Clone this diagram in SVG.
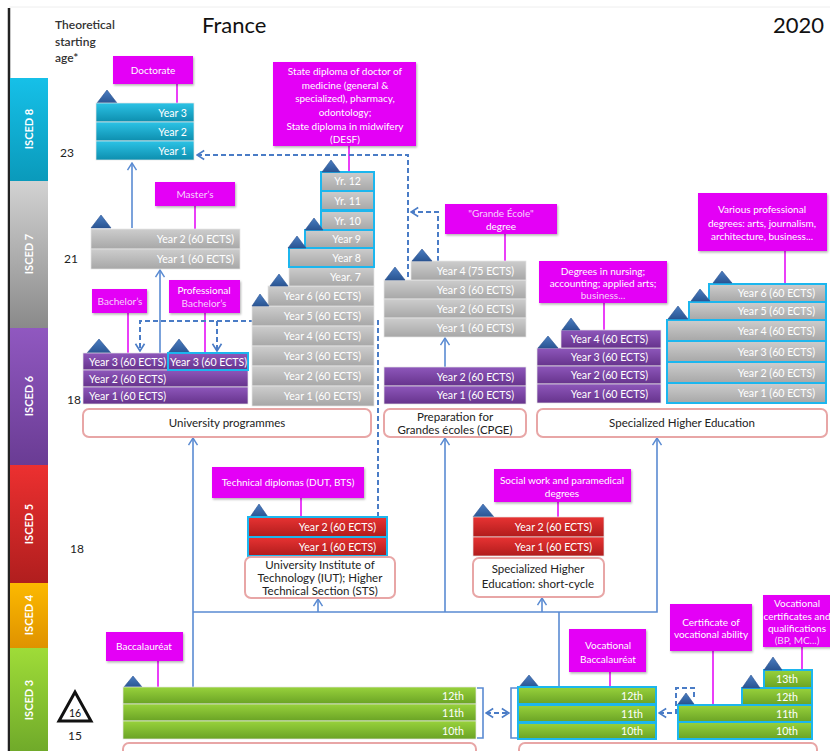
<svg xmlns="http://www.w3.org/2000/svg" width="830" height="751" viewBox="0 0 830 751">
<style>
text{font-family:"Lato","Liberation Sans",sans-serif;}
.rw{stroke:#e6e6e6;stroke-width:.7}
.cy{stroke:#1cb6ee;stroke-width:2}
.rt{fill:#fff;font-size:10.6px;text-anchor:end}
.rs{fill:#fff;font-size:10.6px;text-anchor:start}
.lab{fill:#e400f6;filter:url(#sh)}
.lt{fill:#fff;font-size:10px;text-anchor:middle}
.lp{fill:#f7d2fb;font-size:10px;text-anchor:middle}
.lk{stroke:#e400f6;stroke-width:1.5;fill:none}
.box{fill:#fff;stroke:#e8a6a6;stroke-width:2}
.bt{fill:#222;font-size:11.5px;text-anchor:middle}
.sol{stroke:#5a8bd2;stroke-width:1.6;fill:none}
.dash{stroke:#4a7cc6;stroke-width:2;fill:none;stroke-dasharray:5 3}
.isc{fill:#fff;font-size:11px;font-weight:bold;text-anchor:middle}
.age{fill:#222;font-size:12px}
.tri{fill:url(#gTri);stroke:#2b5390;stroke-width:.6}
</style>
<defs>
<linearGradient id="gCyan" x1="0" y1="0" x2="0" y2="1"><stop offset="0" stop-color="#2cc3e6"/><stop offset="1" stop-color="#0d8eae"/></linearGradient>
<linearGradient id="gGray" x1="0" y1="0" x2="0" y2="1"><stop offset="0" stop-color="#cdcdcd"/><stop offset="1" stop-color="#a7a7a7"/></linearGradient>
<linearGradient id="gPur" x1="0" y1="0" x2="0" y2="1"><stop offset="0" stop-color="#8e57bb"/><stop offset="1" stop-color="#66338c"/></linearGradient>
<linearGradient id="gRed" x1="0" y1="0" x2="0" y2="1"><stop offset="0" stop-color="#e83333"/><stop offset="1" stop-color="#b01c1c"/></linearGradient>
<linearGradient id="gGrn" x1="0" y1="0" x2="0" y2="1"><stop offset="0" stop-color="#98d23c"/><stop offset="1" stop-color="#6aa325"/></linearGradient>
<linearGradient id="gTri" x1="0" y1="0" x2="0" y2="1"><stop offset="0" stop-color="#4a7dc2"/><stop offset="1" stop-color="#2a5592"/></linearGradient>
<linearGradient id="i8" x1="0" y1="0" x2="0" y2="1"><stop offset="0" stop-color="#16c0e8"/><stop offset="1" stop-color="#0a9abb"/></linearGradient>
<linearGradient id="i7" x1="0" y1="0" x2="0" y2="1"><stop offset="0" stop-color="#d2d2d2"/><stop offset="1" stop-color="#8a8a8a"/></linearGradient>
<linearGradient id="i6" x1="0" y1="0" x2="0" y2="1"><stop offset="0" stop-color="#9058c0"/><stop offset="1" stop-color="#6a3c94"/></linearGradient>
<linearGradient id="i5" x1="0" y1="0" x2="0" y2="1"><stop offset="0" stop-color="#ec3030"/><stop offset="1" stop-color="#b01e1e"/></linearGradient>
<linearGradient id="i4" x1="0" y1="0" x2="0" y2="1"><stop offset="0" stop-color="#fcb900"/><stop offset="1" stop-color="#df9200"/></linearGradient>
<linearGradient id="i3" x1="0" y1="0" x2="0" y2="1"><stop offset="0" stop-color="#9fdc38"/><stop offset="1" stop-color="#70aa2a"/></linearGradient>
<filter id="sh" x="-10%" y="-10%" width="130%" height="140%"><feDropShadow dx="1" dy="1.5" stdDeviation="1" flood-color="#000" flood-opacity="0.3"/></filter>
<marker id="ar" viewBox="0 0 10 12" refX="9" refY="6" markerWidth="9" markerHeight="12" markerUnits="userSpaceOnUse" orient="auto"><path d="M1,1 L9,6 L1,11" fill="none" stroke="#5a8bd2" stroke-width="1.6"/></marker>
<marker id="ad" viewBox="0 0 10 12" refX="9" refY="6" markerWidth="9" markerHeight="12" markerUnits="userSpaceOnUse" orient="auto-start-reverse"><path d="M1,1 L9,6 L1,11" fill="none" stroke="#4a7cc6" stroke-width="1.8"/></marker>
</defs>
<rect x="0" y="0" width="830" height="751" fill="#fff"/>
<line x1="9" y1="7" x2="830" y2="7" stroke="#eeeeee" stroke-width="1"/>
<line x1="9" y1="8" x2="9" y2="751" stroke="#222" stroke-width="2.5"/>

<g id="header">
<text x="55" y="29" fill="#333" font-size="12" font-weight="600">Theoretical</text>
<text x="55" y="46" fill="#333" font-size="12" font-weight="600">starting</text>
<text x="55" y="62" fill="#333" font-size="12" font-weight="600">age*</text>
<text x="202" y="33" fill="#111" font-size="22">France</text>
<text x="824" y="33" fill="#111" font-size="22" text-anchor="end">2020</text>
</g>

<g id="isced">
<rect x="10" y="78" width="38" height="103" fill="url(#i8)"/>
<rect x="10" y="181" width="38" height="147" fill="url(#i7)"/>
<rect x="10" y="328" width="38" height="137" fill="url(#i6)"/>
<rect x="10" y="465" width="38" height="118" fill="url(#i5)"/>
<rect x="10" y="583" width="38" height="65" fill="url(#i4)"/>
<rect x="10" y="648" width="38" height="103" fill="url(#i3)"/>
<text class="isc" transform="translate(33,129) rotate(-90)">ISCED 8</text>
<text class="isc" transform="translate(33,254) rotate(-90)">ISCED 7</text>
<text class="isc" transform="translate(33,396) rotate(-90)">ISCED 6</text>
<text class="isc" transform="translate(33,524) rotate(-90)">ISCED 5</text>
<text class="isc" transform="translate(33,615) rotate(-90)">ISCED 4</text>
<text class="isc" transform="translate(33,700) rotate(-90)">ISCED 3</text>
</g>

<g id="ages">
<text class="age" x="60" y="157">23</text>
<text class="age" x="64" y="263">21</text>
<text class="age" x="67" y="404">18</text>
<text class="age" x="70" y="553">18</text>
<polygon points="59,721 75,692 91,721" fill="#fff" stroke="#111" stroke-width="3" stroke-linejoin="miter"/>
<text x="75" y="717" fill="#111" font-size="10.5" text-anchor="middle">16</text>
<text class="age" x="68" y="740">15</text>
</g>

<g id="connectors">
<path class="lk" d="M177,84V103 M349,146V172 M195,206V229 M505,234V261 M128,313V353 M205,313V353 M604,303V330 M785,251V283 M301,498V517 M558,502V517 M158,661V687 M610,672V687 M713,651V705 M802,647V670"/>
<path class="sol" d="M132,228V163" marker-end="url(#ar)"/>
<path class="sol" d="M160,353V270" marker-end="url(#ar)"/>
<path class="sol" d="M445,367V338" marker-end="url(#ar)"/>
<path class="sol" d="M193,687V438" marker-end="url(#ar)"/>
<path class="sol" d="M193,612H657V438" marker-end="url(#ar)"/>
<path class="sol" d="M445,612V438" marker-end="url(#ar)"/>
<path class="sol" d="M318,612V599" marker-end="url(#ar)"/>
<path class="sol" d="M542,612V598" marker-end="url(#ar)"/>
<path class="sol" d="M559,612V687"/>
<path class="sol" d="M477,688H483V738H477 M517,688H511V738H517" stroke-width="1.3"/>
<path class="dash" d="M408,277V155H197" marker-end="url(#ad)"/>
<path class="dash" d="M438,261V212H411" marker-end="url(#ad)"/>
<path class="dash" d="M378,517V321H140V351" marker-end="url(#ad)"/>
<path class="dash" d="M217,321V351" marker-end="url(#ad)"/>
<path class="dash" d="M486,713H509" marker-start="url(#ad)" marker-end="url(#ad)"/>
<path class="dash" d="M694,697V688H676V713H659" marker-end="url(#ad)"/>
</g>

<g id="doctorate">
<rect class="lab" x="113" y="56" width="80" height="28"/>
<text class="lt" x="153" y="74">Doctorate</text>
<polygon class="tri" points="97,103 107,90 117,103"/>
<rect class="rw" x="96" y="103" width="98" height="19" fill="url(#gCyan)"/>
<rect class="rw" x="96" y="122" width="98" height="19" fill="url(#gCyan)"/>
<rect class="rw" x="96" y="141" width="98" height="19" fill="url(#gCyan)"/>
<text class="rt" x="187" y="117">Year 3</text>
<text class="rt" x="187" y="136">Year 2</text>
<text class="rt" x="187" y="155">Year 1</text>
</g>

<g id="medicine">
<rect class="lab" x="273" y="62" width="143" height="84"/>
<text class="lt" x="345" y="75">State diploma of doctor of</text>
<text class="lt" x="345" y="89">medicine (general &amp;</text>
<text class="lt" x="345" y="102">specialized), pharmacy,</text>
<text class="lt" x="345" y="116">odontology;</text>
<text class="lt" x="345" y="130">State diploma in midwifery</text>
<text class="lt" x="345" y="143">(DESF)</text>
<rect class="rw" x="252" y="306" width="122" height="20" fill="url(#gGray)"/>
<rect class="rw" x="252" y="326" width="122" height="20" fill="url(#gGray)"/>
<rect class="rw" x="252" y="346" width="122" height="20" fill="url(#gGray)"/>
<rect class="rw" x="252" y="366" width="122" height="20" fill="url(#gGray)"/>
<rect class="rw" x="252" y="386" width="122" height="20" fill="url(#gGray)"/>
<rect class="rw" x="268" y="286" width="106" height="20" fill="url(#gGray)"/>
<rect class="rw" x="289" y="267" width="85" height="19" fill="url(#gGray)"/>
<rect class="cy" x="289" y="248" width="85" height="19" fill="url(#gGray)"/>
<rect class="cy" x="305" y="230" width="69" height="18" fill="url(#gGray)"/>
<rect class="cy" x="321" y="211" width="53" height="19" fill="url(#gGray)"/>
<rect class="cy" x="321" y="191" width="53" height="19" fill="url(#gGray)"/>
<rect class="cy" x="321" y="172" width="53" height="19" fill="url(#gGray)"/>
<text class="rt" x="361" y="185">Yr. 12</text>
<text class="rt" x="361" y="205">Yr. 11</text>
<text class="rt" x="361" y="225">Yr. 10</text>
<text class="rt" x="361" y="243">Year 9</text>
<text class="rt" x="361" y="262">Year 8</text>
<text class="rt" x="361" y="281">Year. 7</text>
<text class="rt" x="361" y="300">Year 6 (60 ECTS)</text>
<text class="rt" x="361" y="320">Year 5 (60 ECTS)</text>
<text class="rt" x="361" y="340">Year 4 (60 ECTS)</text>
<text class="rt" x="361" y="360">Year 3 (60 ECTS)</text>
<text class="rt" x="361" y="380">Year 2 (60 ECTS)</text>
<text class="rt" x="361" y="400">Year 1 (60 ECTS)</text>
<polygon class="tri" points="322,172 331,160 340,172"/>
<polygon class="tri" points="305,230 314,218 323,230"/>
<polygon class="tri" points="288,248 297,236 306,248"/>
<polygon class="tri" points="270,286 279,274 288,286"/>
<polygon class="tri" points="252,306 260,294 269,306"/>
</g>

<g id="masters">
<rect class="lab" x="155" y="182" width="80" height="24"/>
<text class="lp" x="195" y="198">Master’s</text>
<polygon class="tri" points="91,228 101,215 111,228"/>
<rect class="rw" x="91" y="229" width="149" height="20" fill="url(#gGray)"/>
<rect class="rw" x="91" y="249" width="149" height="20" fill="url(#gGray)"/>
<text class="rt" x="234" y="243">Year 2 (60 ECTS)</text>
<text class="rt" x="234" y="263">Year 1 (60 ECTS)</text>
</g>

<g id="bachelor">
<rect class="lab" x="92" y="289" width="55" height="24"/>
<text class="lp" x="120" y="305" font-size="9.5">Bachelor’s</text>
<rect class="lab" x="169" y="280" width="71" height="33"/>
<text class="lt" x="204" y="294">Professional</text>
<text class="lp" x="204" y="307">Bachelor’s</text>
<polygon class="tri" points="87,353 99,339 111,353"/>
<polygon class="tri" points="168,353 179,339 190,353"/>
<rect class="rw" x="83" y="353" width="85" height="17" fill="url(#gPur)"/>
<rect class="rw" x="83" y="370" width="165" height="17" fill="url(#gPur)"/>
<rect class="rw" x="83" y="387" width="165" height="17" fill="url(#gPur)"/>
<rect class="cy" x="168" y="353" width="80" height="17" fill="url(#gPur)"/>
<text class="rs" x="89" y="365.5">Year 3 (60 ECTS)</text>
<text class="rs" x="170" y="365.5">Year 3 (60 ECTS)</text>
<text class="rs" x="89" y="382.5">Year 2 (60 ECTS)</text>
<text class="rs" x="89" y="399.5">Year 1 (60 ECTS)</text>
<rect class="box" x="83" y="409" width="288" height="28" rx="6"/>
<text class="bt" x="227" y="427">University programmes</text>
</g>

<g id="grandes-ecoles">
<rect class="lab" x="445" y="204" width="112" height="30"/>
<text class="lp" x="501" y="217">"Grande École"</text>
<text class="lt" x="501" y="230">degree</text>
<rect class="rw" x="384" y="280" width="142" height="19" fill="url(#gGray)"/>
<rect class="rw" x="384" y="299" width="142" height="19" fill="url(#gGray)"/>
<rect class="rw" x="384" y="318" width="142" height="19" fill="url(#gGray)"/>
<rect class="rw" x="411" y="261" width="115" height="19" fill="url(#gGray)"/>
<text class="rt" x="514" y="275">Year 4 (75 ECTS)</text>
<text class="rt" x="514" y="294">Year 3 (60 ECTS)</text>
<text class="rt" x="514" y="313">Year 2 (60 ECTS)</text>
<text class="rt" x="514" y="332">Year 1 (60 ECTS)</text>
<polygon class="tri" points="385,280 395,267 405,280"/>
<polygon class="tri" points="412,261 422,249 432,261"/>
</g>

<g id="cpge">
<rect class="rw" x="384" y="367" width="142" height="19" fill="url(#gPur)"/>
<rect class="rw" x="384" y="386" width="142" height="18" fill="url(#gPur)"/>
<text class="rt" x="514" y="381">Year 2 (60 ECTS)</text>
<text class="rt" x="514" y="399">Year 1 (60 ECTS)</text>
<rect class="box" x="384" y="409" width="142" height="28" rx="6"/>
<text class="bt" x="455" y="421" font-size="10.5">Preparation for</text>
<text class="bt" x="455" y="434" font-size="10.5">Grandes écoles (CPGE)</text>
</g>

<g id="specialized-degrees">
<rect class="lab" x="539" y="261" width="128" height="42"/>
<text class="lt" x="603" y="275">Degrees in nursing;</text>
<text class="lt" x="603" y="287">accounting; applied arts;</text>
<text class="lp" x="603" y="299">business...</text>
<rect class="rw" x="537" y="348" width="124" height="18" fill="url(#gPur)"/>
<rect class="rw" x="537" y="366" width="124" height="18" fill="url(#gPur)"/>
<rect class="rw" x="537" y="384" width="124" height="19" fill="url(#gPur)"/>
<rect class="rw" x="561" y="330" width="100" height="18" fill="url(#gPur)"/>
<text class="rt" x="648" y="343">Year 4 (60 ECTS)</text>
<text class="rt" x="648" y="361">Year 3 (60 ECTS)</text>
<text class="rt" x="648" y="379">Year 2 (60 ECTS)</text>
<text class="rt" x="648" y="398">Year 1 (60 ECTS)</text>
<polygon class="tri" points="538,348 548,336 558,348"/>
<polygon class="tri" points="562,330 571,318 580,330"/>
</g>

<g id="professional-degrees">
<rect class="lab" x="698" y="193" width="129" height="58"/>
<text class="lt" x="762" y="213">Various professional</text>
<text class="lt" x="762" y="227">degrees: arts, journalism,</text>
<text class="lt" x="762" y="240">architecture, business...</text>
<rect class="cy" x="667" y="320" width="159" height="21" fill="url(#gGray)"/>
<rect class="cy" x="667" y="341" width="159" height="21" fill="url(#gGray)"/>
<rect class="cy" x="667" y="362" width="159" height="21" fill="url(#gGray)"/>
<rect class="cy" x="667" y="383" width="159" height="20" fill="url(#gGray)"/>
<rect class="cy" x="689" y="302" width="137" height="18" fill="url(#gGray)"/>
<rect class="cy" x="709" y="284" width="117" height="18" fill="url(#gGray)"/>
<text class="rt" x="815" y="297">Year 6 (60 ECTS)</text>
<text class="rt" x="815" y="315">Year 5 (60 ECTS)</text>
<text class="rt" x="815" y="335">Year 4 (60 ECTS)</text>
<text class="rt" x="815" y="356">Year 3 (60 ECTS)</text>
<text class="rt" x="815" y="377">Year 2 (60 ECTS)</text>
<text class="rt" x="815" y="397">Year 1 (60 ECTS)</text>
<polygon class="tri" points="668,319 678,306 688,319"/>
<polygon class="tri" points="691,301 700,289 710,301"/>
<polygon class="tri" points="713,283 722,271 732,283"/>
<rect class="box" x="537" y="409" width="290" height="28" rx="6"/>
<text class="bt" x="682" y="427" font-size="12">Specialized Higher Education</text>
</g>

<g id="iut">
<rect class="lab" x="212" y="467" width="152" height="31"/>
<text class="lt" x="288" y="486">Technical diplomas (DUT, BTS)</text>
<polygon class="tri" points="250,517 259,504 268,517"/>
<rect class="cy" x="248" y="517" width="139" height="20" fill="url(#gRed)"/>
<rect class="cy" x="248" y="537" width="139" height="19" fill="url(#gRed)"/>
<text class="rt" x="376" y="531">Year 2 (60 ECTS)</text>
<text class="rt" x="376" y="551">Year 1 (60 ECTS)</text>
<rect class="box" x="245" y="557" width="150" height="41" rx="6"/>
<text class="bt" x="320" y="569" font-size="10.5">University Institute of</text>
<text class="bt" x="320" y="582" font-size="10.5">Technology (IUT); Higher</text>
<text class="bt" x="320" y="595" font-size="10.5">Technical Section (STS)</text>
</g>

<g id="short-cycle">
<rect class="lab" x="494" y="469" width="137" height="33"/>
<text class="lt" x="562" y="484">Social work and paramedical</text>
<text class="lt" x="562" y="497">degrees</text>
<polygon class="tri" points="473,517 483,504 494,517"/>
<rect class="rw" x="473" y="517" width="131" height="20" fill="url(#gRed)"/>
<rect class="rw" x="473" y="537" width="131" height="19" fill="url(#gRed)"/>
<text class="rt" x="592" y="531">Year 2 (60 ECTS)</text>
<text class="rt" x="592" y="551">Year 1 (60 ECTS)</text>
<rect class="box" x="473" y="558" width="131" height="39" rx="6"/>
<text class="bt" x="538" y="573" font-size="12.5">Specialized Higher</text>
<text class="bt" x="538" y="588" font-size="12.5">Education: short-cycle</text>
</g>

<g id="general-upper-secondary">
<rect class="lab" x="106" y="632" width="77" height="29"/>
<text class="lt" x="144" y="650">Baccalauréat</text>
<polygon class="tri" points="124,687 133,676 142,687"/>
<rect class="rw" x="123" y="687" width="353" height="17" fill="url(#gGrn)"/>
<rect class="rw" x="123" y="704" width="353" height="17" fill="url(#gGrn)"/>
<rect class="rw" x="123" y="721" width="353" height="18" fill="url(#gGrn)"/>
<text class="rt" x="464" y="700" font-size="11.5">12th</text>
<text class="rt" x="464" y="717" font-size="11.5">11th</text>
<text class="rt" x="464" y="735" font-size="11.5">10th</text>
<rect class="box" x="123" y="743" width="353" height="20" rx="6"/>
</g>

<g id="vocational-upper-secondary">
<rect class="lab" x="569" y="629" width="77" height="43"/>
<text class="lt" x="608" y="649" font-size="11">Vocational</text>
<text class="lt" x="608" y="663" font-size="11">Baccalauréat</text>
<polygon class="tri" points="519,687 529,675 539,687"/>
<rect class="cy" x="518" y="687" width="138" height="17" fill="url(#gGrn)"/>
<rect class="cy" x="518" y="705" width="138" height="17" fill="url(#gGrn)"/>
<rect class="cy" x="518" y="723" width="138" height="16" fill="url(#gGrn)"/>
<text class="rt" x="643" y="700" font-size="11.5">12th</text>
<text class="rt" x="643" y="718" font-size="11.5">11th</text>
<text class="rt" x="643" y="735" font-size="11.5">10th</text>
<rect class="box" x="519" y="743" width="298" height="20" rx="6"/>
</g>

<g id="vocational-certificates">
<rect class="lab" x="670" y="604" width="82" height="47"/>
<text class="lt" x="711" y="626" font-size="9">Certificate of</text>
<text class="lt" x="711" y="638" font-size="9">vocational ability</text>
<rect class="lab" x="763" y="595" width="70" height="52"/>
<text class="lt" x="797" y="607" font-size="9.5">Vocational</text>
<text class="lt" x="797" y="620" font-size="9">certificates and</text>
<text class="lt" x="797" y="632" font-size="9">qualifications</text>
<text class="lp" x="797" y="644" font-size="9">(BP, MC...)</text>
<rect class="cy" x="678" y="705" width="134" height="17" fill="url(#gGrn)"/>
<rect class="cy" x="678" y="722" width="134" height="17" fill="url(#gGrn)"/>
<rect class="cy" x="742" y="688" width="70" height="17" fill="url(#gGrn)"/>
<rect class="cy" x="764" y="670" width="48" height="18" fill="url(#gGrn)"/>
<text class="rt" x="798" y="683" font-size="11.5">13th</text>
<text class="rt" x="798" y="701" font-size="11.5">12th</text>
<text class="rt" x="798" y="718" font-size="11.5">11th</text>
<text class="rt" x="798" y="735" font-size="11.5">10th</text>
<polygon class="tri" points="678,704 686,693 694,704"/>
<polygon class="tri" points="742,688 751,675 760,688"/>
<polygon class="tri" points="764,670 773,657 782,670"/>
</g>
</svg>
